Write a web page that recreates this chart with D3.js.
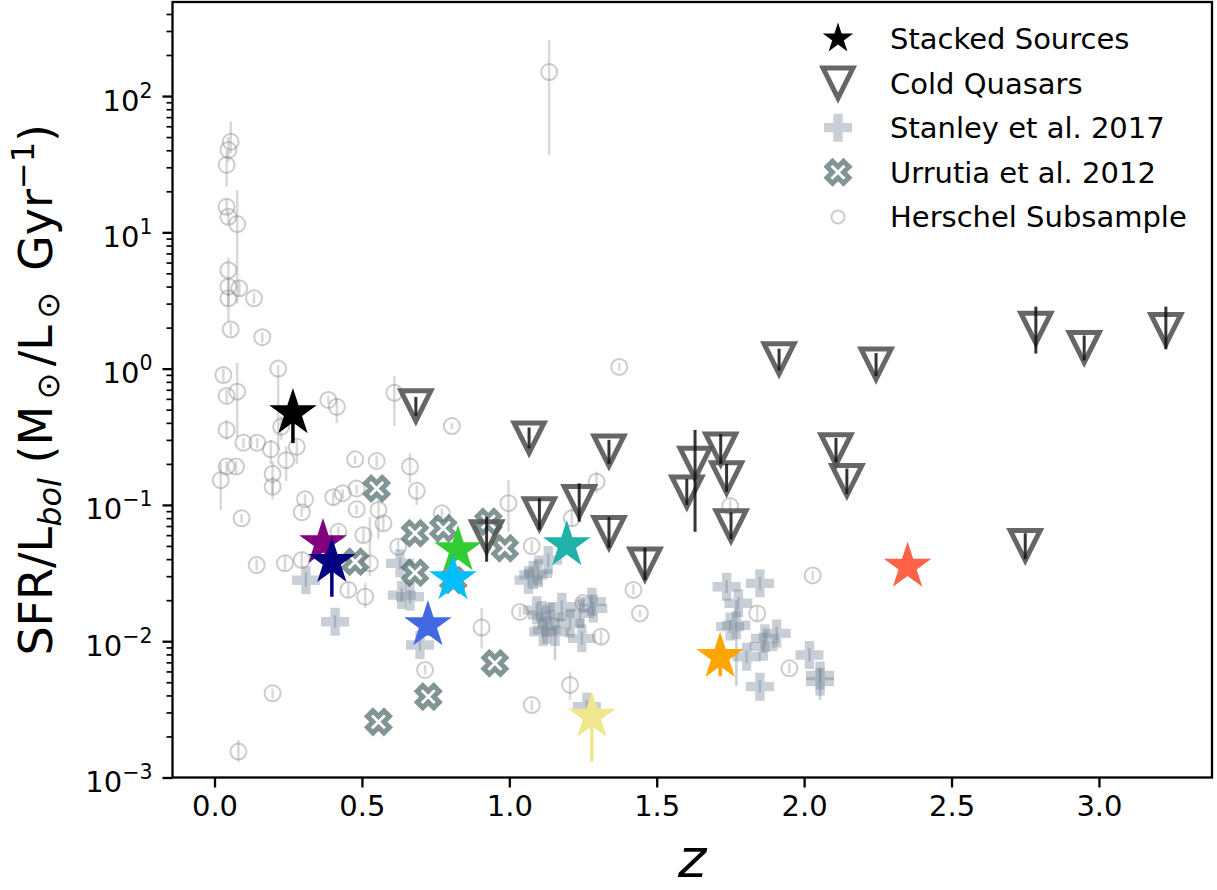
<!DOCTYPE html>
<html><head><meta charset="utf-8">
<script src="https://cdn.jsdelivr.net/npm/d3@7"></script>
<style>
body{margin:0;background:#fff;}
svg{display:block;}
text{font-family:"DejaVu Sans",sans-serif;fill:#000;}
</style>
</head><body>
<svg id="chart" width="1217" height="890"></svg>
<script>
// ---------------- DATA ----------------
const xTickValues = [0, 0.5, 1, 1.5, 2, 2.5, 3];
const xTickLabels = ["0.0", "0.5", "1.0", "1.5", "2.0", "2.5", "3.0"];
const yTickExponents = [-3, -2, -1, 0, 1, 2];

// Stacked sources (stars)
const starZ     = [0.266, 0.368, 0.398, 0.724, 0.826, 0.809, 1.195, 1.280, 1.715, 2.351];
const starR     = [0.472, 0.0525, 0.0383, 0.01315, 0.0467, 0.0286, 0.0508, 0.0028, 0.00769, 0.0353];
const starLo    = [0.284, 0.045, 0.0212, 0.011, 0.040, 0.025, 0.045, 0.00131, 0.00556, 0.031];
const starHi    = [0.55, 0.060, 0.045, 0.015, 0.052, 0.032, 0.056, 0.0033, 0.0095, 0.040];
const starColor = ["#000000", "#800080", "#000080", "#4169e1", "#32cd32", "#00bfff", "#20b2aa", "#f0e68c", "#ffa500", "#ff6347"];

// Cold quasars (open down-triangles)
const cqZ  = [0.683, 1.067, 1.338, 1.915, 1.102, 1.237, 1.338, 1.460, 0.923, 1.630, 1.602, 1.717, 1.737, 1.752, 2.244, 2.108, 2.145, 2.786, 2.950, 3.227, 2.750];
const cqR  = [0.533, 0.31, 0.249, 1.18, 0.0861, 0.106, 0.0627, 0.0368, 0.0585, 0.202, 0.1245, 0.257, 0.158, 0.0703, 1.08, 0.254, 0.151, 1.98, 1.43, 1.94, 0.0504];
const cqLo = [0.45, 0.26, 0.20, 0.97, 0.0656, 0.0753, 0.0484, 0.0281, 0.0383, 0.0635, 0.10, 0.20, 0.125, 0.056, 0.88, 0.205, 0.12, 1.29, 1.15, 1.39, 0.040];
const cqHi = [0.62, 0.37, 0.30, 1.40, 0.112, 0.144, 0.0818, 0.0484, 0.0818, 0.355, 0.155, 0.33, 0.20, 0.088, 1.30, 0.31, 0.185, 2.85, 1.75, 2.85, 0.062];

// Stanley et al. 2017 (filled plus)
const stZ  = [0.31, 0.409, 0.697, 0.635, 0.629, 0.663, 1.081, 1.098, 1.132, 1.065, 1.110, 1.127, 1.093, 1.138, 1.115, 1.155, 1.178, 1.206, 1.240, 1.285, 1.246, 1.280, 1.263, 1.737, 1.749, 1.850, 1.777, 1.770, 1.907, 1.867, 1.862, 1.805, 2.018, 2.054, 2.054, 1.850];
const stR  = [0.028, 0.0139, 0.00938, 0.0218, 0.0373, 0.0212, 0.0306, 0.0315, 0.0394, 0.0281, 0.0156, 0.0121, 0.0169, 0.0151, 0.0117, 0.0117, 0.0179, 0.0135, 0.0160, 0.0174, 0.0105, 0.0195, 0.00331, 0.0251, 0.0128, 0.0266, 0.0190, 0.0131, 0.0114, 0.0105, 0.00912, 0.00769, 0.00792, 0.00505, 0.0056, 0.00464];
const stLo = [0.025, 0.0125, 0.0085, 0.0195, 0.0335, 0.019, 0.027, 0.028, 0.035, 0.025, 0.014, 0.0108, 0.015, 0.0135, 0.0105, 0.0073, 0.016, 0.012, 0.0143, 0.0155, 0.0094, 0.0174, 0.003, 0.0225, 0.0115, 0.0238, 0.017, 0.0047, 0.0102, 0.0094, 0.0082, 0.0069, 0.0071, 0.0037, 0.005, 0.0042];
const stHi = [0.032, 0.0155, 0.0104, 0.0245, 0.0415, 0.0236, 0.035, 0.036, 0.044, 0.032, 0.0175, 0.0136, 0.019, 0.017, 0.013, 0.013, 0.020, 0.015, 0.0179, 0.0195, 0.0118, 0.0218, 0.0037, 0.028, 0.0143, 0.0297, 0.021, 0.020, 0.0128, 0.0118, 0.0102, 0.0086, 0.0089, 0.0063, 0.0063, 0.0052];

// Urrutia et al. 2012 (filled X)
const urZ = [0.550, 0.477, 0.680, 0.776, 0.680, 0.810, 0.929, 0.985, 0.951, 0.725, 0.556];
const urR = [0.132, 0.0383, 0.0619, 0.0673, 0.0318, 0.0281, 0.0753, 0.0481, 0.00689, 0.00392, 0.00256];

// Herschel subsample (open circles)
const hZ  = [0.055, 0.047, 0.041, 0.041, 0.047, 0.077, 0.047, 0.047, 0.084, 0.047, 0.134, 0.055, 0.162, 0.030, 0.216, 0.041, 0.077, 0.041, 0.098, 0.145, 0.191, 0.041, 0.073, 0.021, 0.197, 0.197, 0.092, 0.226, 0.243, 0.279, 0.386, 0.415, 0.610, 0.805, 0.477, 0.550, 0.663, 0.686, 0.307, 0.296, 0.403, 0.435, 0.482, 0.482, 0.556, 0.573, 0.771, 0.505, 0.420, 0.623, 0.527, 0.239, 0.296, 0.143, 0.454, 0.511, 0.906, 0.997, 1.036, 1.076, 0.714, 0.197, 0.081, 1.076, 1.296, 1.212, 1.251, 1.311, 1.421, 1.443, 1.206, 1.373, 1.135, 2.029, 1.749, 1.841, 1.950];
const hR  = [46.2, 40.2, 31.2, 15.4, 13.0, 11.5, 5.28, 3.99, 3.88, 3.28, 3.28, 1.94, 1.70, 0.897, 1.00, 0.630, 0.678, 0.355, 0.286, 0.286, 0.256, 0.191, 0.191, 0.152, 0.169, 0.136, 0.0798, 0.375, 0.213, 0.267, 0.589, 0.525, 0.665, 0.379, 0.216, 0.210, 0.191, 0.127, 0.110, 0.0883, 0.114, 0.122, 0.132, 0.0929, 0.0919, 0.0733, 0.0867, 0.0601, 0.0635, 0.0493, 0.0373, 0.0373, 0.0394, 0.0362, 0.0238, 0.0212, 0.0126, 0.103, 0.0164, 0.0499, 0.00615, 0.00415, 0.00155, 0.00340, 0.148, 0.0798, 0.0191, 0.0108, 0.0238, 0.0160, 0.00478, 1.03, 150, 0.0304, 0.0982, 0.0160, 0.00632];
const hLo = [38, 33, 21.6, 13.5, 11.5, 3.0, 2.2, 3.4, 3.4, 2.9, 3.0, 1.75, 1.55, 0.8, 0.253, 0.56, 0.315, 0.30, 0.26, 0.26, 0.20, 0.17, 0.17, 0.092, 0.12, 0.11, 0.074, 0.30, 0.15, 0.20, 0.55, 0.40, 0.38, 0.36, 0.20, 0.19, 0.145, 0.10, 0.10, 0.082, 0.10, 0.11, 0.12, 0.085, 0.056, 0.065, 0.08, 0.053, 0.056, 0.045, 0.03, 0.033, 0.035, 0.033, 0.021, 0.0175, 0.0089, 0.0635, 0.015, 0.045, 0.0057, 0.0038, 0.0013, 0.0031, 0.122, 0.07, 0.017, 0.0095, 0.022, 0.015, 0.00371, 0.97, 36.9, 0.028, 0.085, 0.014, 0.0058];
const hHi = [64.8, 50, 40, 17.5, 14.5, 20.4, 6.5, 4.6, 4.4, 3.7, 3.6, 2.15, 1.85, 1.0, 1.06, 0.70, 1.10, 0.42, 0.31, 0.31, 0.30, 0.21, 0.21, 0.203, 0.21, 0.16, 0.086, 0.45, 0.27, 0.30, 0.63, 0.60, 0.88, 0.40, 0.23, 0.23, 0.240, 0.14, 0.12, 0.095, 0.125, 0.13, 0.14, 0.10, 0.109, 0.082, 0.094, 0.068, 0.07, 0.055, 0.082, 0.042, 0.045, 0.04, 0.027, 0.0267, 0.0175, 0.152, 0.018, 0.055, 0.0067, 0.0045, 0.00188, 0.0037, 0.176, 0.095, 0.021, 0.012, 0.026, 0.017, 0.00597, 1.1, 257, 0.033, 0.11, 0.018, 0.0069];

const legendLabels = ["Stacked Sources", "Cold Quasars", "Stanley et al. 2017", "Urrutia et al. 2012", "Herschel Subsample"];

// ---------------- SETUP ----------------
const svg = d3.select("#chart");
const L = 172.5, R = 1212, T = 2, B = 777.5;
const x = d3.scaleLinear().domain([-0.1425, 3.3835]).range([L, R]);
const y = d3.scaleLog().domain([1e-3, Math.pow(10, 2.69)]).range([B, T]);

// custom symbol types
const triDown = { draw(ctx, size) { const h = Math.sqrt(size) / 2; ctx.moveTo(0, h); ctx.lineTo(-h, -h); ctx.lineTo(h, -h); ctx.closePath(); } };
const xFilled = { draw(ctx, size) {
  const u = Math.sqrt(size) / 4;
  const p = [[-1,-2],[0,-1],[1,-2],[2,-1],[1,0],[2,1],[1,2],[0,1],[-1,2],[-2,1],[-1,0],[-2,-1]];
  ctx.moveTo(p[0][0]*u, p[0][1]*u);
  for (let i = 1; i < p.length; i++) ctx.lineTo(p[i][0]*u, p[i][1]*u);
  ctx.closePath();
} };

const starSym = d3.symbol().type(d3.symbolStar).size(25*25/0.8908130915);
const triSym = d3.symbol().type(triDown).size(30*30);
const plusSym = d3.symbol().type(d3.symbolCross).size(435);
const xSym = d3.symbol().type(xFilled).size(22*22);
const circSym = d3.symbol().type(d3.symbolCircle).size(Math.PI*8*8);

const plot = svg.append("g");

// ---- Herschel ----
const hData = hZ.map((z,i)=>({z, r:hR[i], lo:hLo[i], hi:hHi[i]}));
plot.append("g").selectAll("line").data(hData).join("line")
  .attr("x1", d=>x(d.z)).attr("x2", d=>x(d.z))
  .attr("y1", d=>y(d.lo)).attr("y2", d=>y(d.hi))
  .attr("stroke", "#808080").attr("stroke-opacity", 0.3).attr("stroke-width", 2.5);
plot.append("g").selectAll("path").data(hData).join("path")
  .attr("d", circSym).attr("transform", d=>`translate(${x(d.z)},${y(d.r)})`)
  .attr("fill", "none").attr("stroke", "#808080").attr("stroke-opacity", 0.4).attr("stroke-width", 2);

// ---- Stanley ----
const stData = stZ.map((z,i)=>({z, r:stR[i], lo:stLo[i], hi:stHi[i]}));
plot.append("g").selectAll("line").data(stData).join("line")
  .attr("x1", d=>x(d.z)).attr("x2", d=>x(d.z))
  .attr("y1", d=>y(d.lo)).attr("y2", d=>y(d.hi))
  .attr("stroke", "#778899").attr("stroke-opacity", 0.4).attr("stroke-width", 2.5);
plot.append("g").selectAll("path").data(stData).join("path")
  .attr("d", plusSym).attr("transform", d=>`translate(${x(d.z)},${y(d.r)})`)
  .attr("fill", "#778899").attr("fill-opacity", 0.4);

// ---- Urrutia ----
const urData = urZ.map((z,i)=>({z, r:urR[i]}));
plot.append("g").selectAll("path").data(urData).join("path")
  .attr("d", xSym).attr("transform", d=>`translate(${x(d.z)},${y(d.r)})`)
  .attr("fill", "#ffffff").attr("fill-opacity", 0.6)
  .attr("stroke", "#2f4f4f").attr("stroke-opacity", 0.6).attr("stroke-width", 5).attr("stroke-linejoin", "miter");

// ---- Cold quasars ----
const cqData = cqZ.map((z,i)=>({z, r:cqR[i], lo:cqLo[i], hi:cqHi[i]}));
plot.append("g").selectAll("path").data(cqData).join("path")
  .attr("d", triSym).attr("transform", d=>`translate(${x(d.z)},${y(d.r)})`)
  .attr("fill", "none").attr("stroke", "#555555").attr("stroke-opacity", 0.9).attr("stroke-width", 5).attr("stroke-linejoin", "miter");
plot.append("g").selectAll("line").data(cqData).join("line")
  .attr("x1", d=>x(d.z)).attr("x2", d=>x(d.z))
  .attr("y1", d=>y(d.lo)).attr("y2", d=>y(d.hi))
  .attr("stroke", "#111").attr("stroke-opacity", 0.85).attr("stroke-width", 3);

// ---- Stars ----
const starData = starZ.map((z,i)=>({z, r:starR[i], lo:starLo[i], hi:starHi[i], c:starColor[i]}));
const sg = plot.append("g").selectAll("g").data(starData).join("g");
sg.append("line")
  .attr("x1", d=>x(d.z)).attr("x2", d=>x(d.z))
  .attr("y1", d=>y(d.lo)).attr("y2", d=>y(d.hi))
  .attr("stroke", d=>d.c).attr("stroke-width", 3.5);
sg.append("path")
  .attr("d", starSym).attr("transform", d=>`translate(${x(d.z)},${y(d.r)})`)
  .attr("fill", d=>d.c);

// ---------------- AXES ----------------
svg.append("rect").attr("x", L).attr("y", T).attr("width", R-L).attr("height", B-T)
  .attr("fill", "none").attr("stroke", "#000").attr("stroke-width", 2.3);

const xAxis = svg.append("g").attr("transform", `translate(0,${B})`)
  .call(d3.axisBottom(x).tickValues(xTickValues).tickSize(10).tickPadding(8)
        .tickFormat((d,i)=>xTickLabels[i]));
xAxis.select(".domain").remove();
xAxis.selectAll(".tick line").attr("stroke-width", 2.3);
xAxis.selectAll(".tick text").attr("font-size", 29).attr("font-family", "DejaVu Sans").attr("dy", "0.72em");

const majors = yTickExponents.map(e=>Math.pow(10,e));
const minors = [];
for (let e = -3; e <= 2; e++) for (let k = 2; k <= 9; k++) { const v = k*Math.pow(10,e); if (v < Math.pow(10,2.69)) minors.push(v); }

const yAxisMinor = svg.append("g").attr("transform", `translate(${L},0)`)
  .call(d3.axisLeft(y).tickValues(minors).tickSize(6).tickFormat(""));
yAxisMinor.select(".domain").remove();
yAxisMinor.selectAll(".tick line").attr("stroke-width", 1.7);

const yAxis = svg.append("g").attr("transform", `translate(${L},0)`)
  .call(d3.axisLeft(y).tickValues(majors).tickSize(10).tickFormat(""));
yAxis.select(".domain").remove();
yAxis.selectAll(".tick line").attr("stroke-width", 2.3);
yAxis.selectAll(".tick").each(function(d, i) {
  const t = d3.select(this).append("text")
    .attr("x", -20).attr("y", 14).attr("text-anchor", "end")
    .attr("font-size", 29).attr("fill", "#000");
  t.append("tspan").text("10");
  t.append("tspan").attr("dy", -13).attr("font-size", 20.5)
    .text(String(yTickExponents[i]).replace("-", "\u2212"));
});

// axis labels
svg.append("text").attr("x", (L+R)/2).attr("y", 877).attr("text-anchor", "middle")
  .attr("font-size", 54).attr("font-style", "italic").text("z");

const yl = svg.append("text").attr("transform", `translate(52,${(T+B)/2}) rotate(-90)`)
  .attr("text-anchor", "middle").attr("font-size", 46);
yl.append("tspan").text("SFR/L");
yl.append("tspan").attr("font-size", 32).attr("font-style", "italic").attr("dy", 9).text("bol");
yl.append("tspan").attr("dy", -9).text(" (M");
yl.append("tspan").attr("font-size", 32).attr("dy", 7).text("\u2009\u2299\u2009");
yl.append("tspan").attr("dy", -7).text("/L");
yl.append("tspan").attr("font-size", 32).attr("dy", 7).text("\u2009\u2299\u2009");
yl.append("tspan").attr("dy", -7).text(" Gyr");
yl.append("tspan").attr("font-size", 32).attr("dy", -18).text("\u22121");
yl.append("tspan").attr("dy", 18).text(")");

// ---------------- LEGEND ----------------
const lg = svg.append("g");
const lx = 838, ltx = 890, ly0 = 38.5, ldy = 44.6;
const legendSym = [
  g => g.append("path").attr("d", d3.symbol().type(d3.symbolStar).size(16*16/0.8908130915)()).attr("fill", "#000"),
  g => g.append("path").attr("d", triSym()).attr("fill", "none").attr("stroke", "#555").attr("stroke-opacity", 0.9).attr("stroke-width", 5),
  g => g.append("path").attr("d", plusSym()).attr("fill", "#778899").attr("fill-opacity", 0.4),
  g => g.append("path").attr("d", xSym()).attr("fill", "#fff").attr("stroke", "#2f4f4f").attr("stroke-opacity", 0.6).attr("stroke-width", 5),
  g => g.append("path").attr("d", d3.symbol().type(d3.symbolCircle).size(Math.PI*6.5*6.5)()).attr("fill", "none").attr("stroke", "#808080").attr("stroke-opacity", 0.4).attr("stroke-width", 2)
];
legendLabels.forEach((lab, i) => {
  const cy = ly0 + i*ldy;
  const g = lg.append("g").attr("transform", `translate(${lx},${cy})`);
  legendSym[i](g);
  lg.append("text").attr("x", ltx).attr("y", cy + 10.5).attr("font-size", 29).text(lab);
});
</script>
</body></html>
